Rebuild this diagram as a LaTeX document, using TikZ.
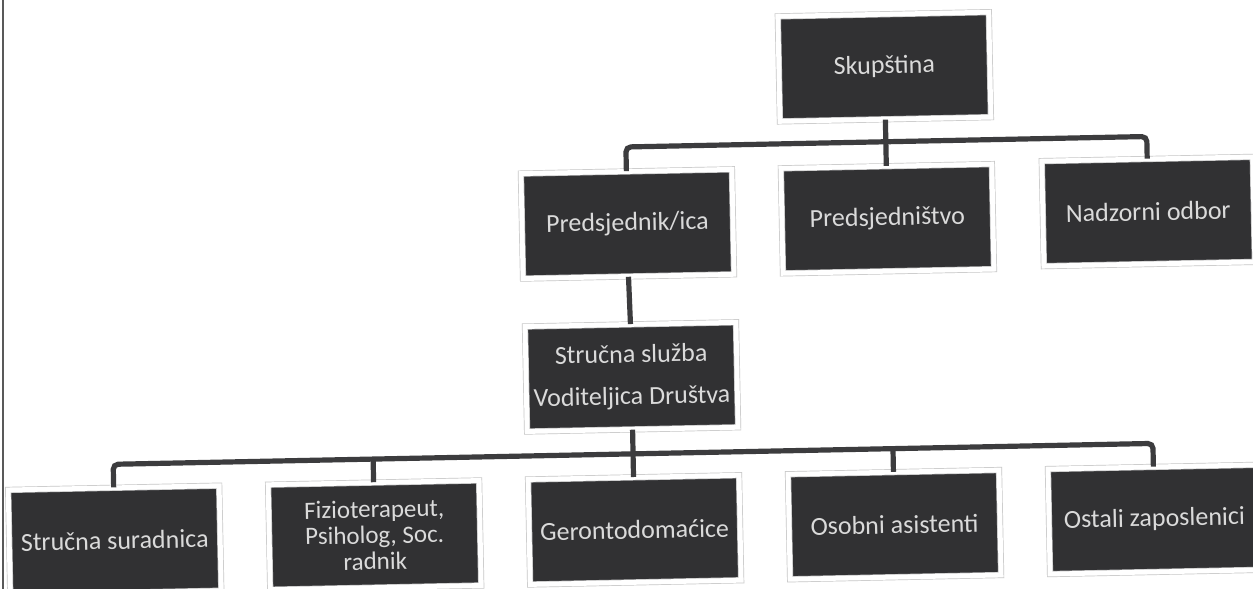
\documentclass[tikz,border=0pt]{standalone}
\usepackage{fontspec}
\setmainfont{Carlito}
\definecolor{boxfill}{HTML}{313133}
\definecolor{boxtext}{HTML}{DADADA}
\definecolor{linec}{HTML}{3C3C3E}
\tikzset{
  orgbox/.style={rectangle, fill=boxfill, text=boxtext, draw=black!22, double=white,
    double distance=2.4pt, line width=0.35pt, minimum width=105.5pt, minimum height=52.5pt,
    inner sep=2pt, align=center, font=\fontsize{13}{13}\selectfont},
  conn/.style={draw=linec, line width=2.6pt, rounded corners=2.5pt, line cap=butt},
}
\begin{document}
\begin{tikzpicture}[x=0.5pt, y=-0.5pt]
\clip (0,0) rectangle (1253,589);
\fill[white] (0,0) rectangle (1253,589);
\draw[black!65, line width=0.6pt] (3,0) -- (3,589);
\begin{scope}[rotate around={1.15:(626,300)}, transform shape]
  \node[orgbox] (sk) at (889,72) {Skupština};
  \node[orgbox] (pr) at (629,224) {Predsjednik/ica};
  \node[orgbox] (ps) at (889,224) {Predsjedništvo};
  \node[orgbox] (nad) at (1150,222) {Nadzorni odbor};
  \node[orgbox, font=\fontsize{13}{21}\selectfont] (ss) at (630,377) {Stručna služba\\Voditeljica Društva};
  \node[orgbox] (b1) at (110,530) {Stručna suradnica};
  \node[orgbox, font=\fontsize{12.5}{13}\selectfont] (b2) at (370,530) {Fizioterapeut,\\Psiholog, Soc.\\radnik};
  \node[orgbox] (b3) at (630,530) {Gerontodomaćice};
  \node[orgbox] (b4) at (890,530) {Osobni asistenti};
  \node[orgbox] (b5) at (1150,530) {Ostali zaposlenici};
  \coordinate (bus1) at (889,147);
  \coordinate (bus2) at (630,454);
  \draw[conn] (sk.south) -- (ps.north);
  \draw[conn] (pr.north) -- (pr.north |- bus1) -- (nad.north |- bus1) -- (nad.north);
  \draw[conn] (pr.south) -- (ss.north);
  \draw[conn] (ss.south) -- (b3.north);
  \draw[conn] (b1.north) -- (b1.north |- bus2) -- (b5.north |- bus2) -- (b5.north);
  \draw[conn] (b2.north) -- (b2.north |- bus2);
  \draw[conn] (b4.north) -- (b4.north |- bus2);
\end{scope}
\end{tikzpicture}
\end{document}
